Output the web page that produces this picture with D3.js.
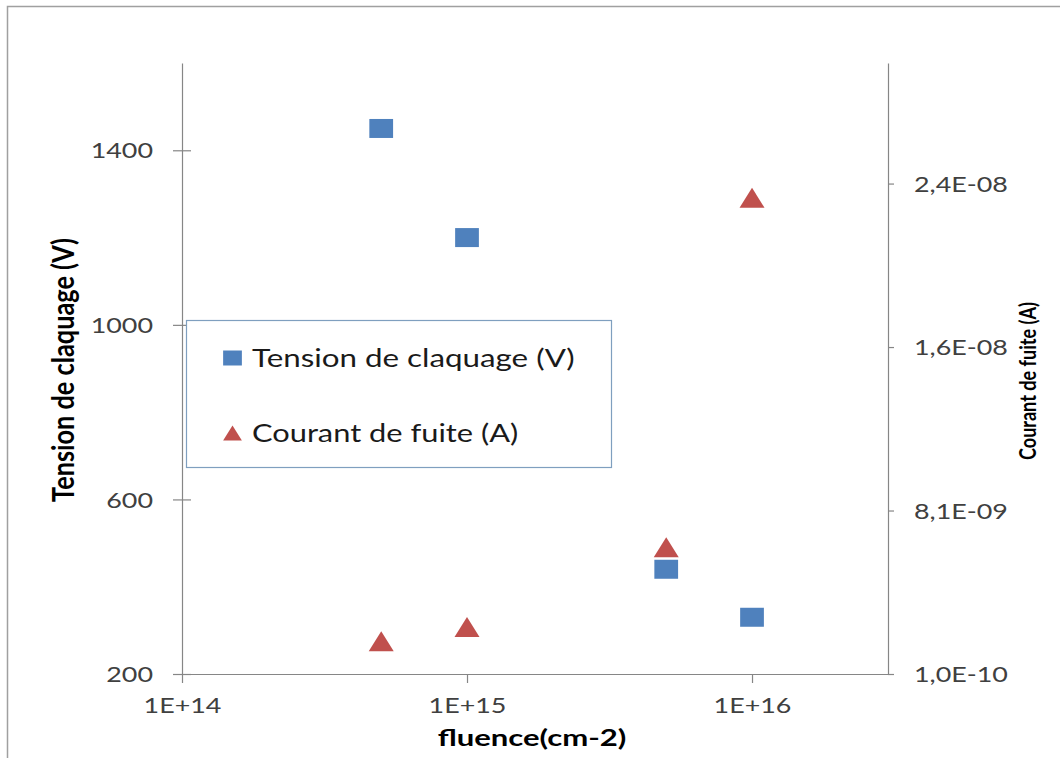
<!DOCTYPE html>
<html>
<head>
<meta charset="utf-8">
<script src="https://cdn.jsdelivr.net/npm/d3@7"></script>
<style>
  body { margin: 0; background: #fff; }
  svg { display: block; }
  text { font-family: Lato, "Noto Sans", sans-serif; }
</style>
</head>
<body>
<svg id="chart" width="1060" height="758"></svg>
<script>
// Irradiation fluence (cm-2) of each measured sample
const fluence = [5e14, 1e15, 5e15, 1e16];
// Breakdown voltage (V), left axis
const tension = [1450, 1200, 440, 330];
// Leakage current (A), right axis
const courant = [1.7e-9, 2.4e-9, 6.3e-9, 2.34e-8];

// Axis tick values
const xTickValues = [1e14, 1e15, 1e16];
const leftTickValues = [200, 600, 1000, 1400];
const rightTickValues = [1e-10, 8.1e-9, 1.61e-8, 2.41e-8];

// Texts
const seriesNames = ["Tension de claquage (V)", "Courant de fuite (A)"];
const xTitle = "fluence(cm-2)";
const leftTitle = "Tension de claquage (V)";
const rightTitle = "Courant de fuite (A)";

// ---- layout & style ----
const SX = 1.25;                       // horizontal stretch of glyphs and markers
const P = { left: 182, right: 888, top: 63, bottom: 674 };
const AXIS = "#868686";
const LABEL = "#404040";
const BLUE = "#4F81BD";
const RED = "#C0504D";

const svg = d3.select("#chart");

// outer chart frame (runs off the right and bottom edges)
svg.append("rect")
  .attr("x", 7.5).attr("y", 6.5).attr("width", 1100).attr("height", 800)
  .attr("fill", "#fff").attr("stroke", "#a0a0a0").attr("stroke-width", 1.5);

const x = d3.scaleLog().domain([1e14, 3e16]).range([P.left, P.right]);
const yL = d3.scaleLinear().domain([200, 1600]).range([P.bottom, P.top]);
const yR = d3.scaleLinear().domain([1e-10, 3e-8]).range([P.bottom, P.top]);

const sciFr = v => {
  const [m, e] = v.toExponential(1).split("e");
  const n = +e;
  return m.replace(".", ",") + "E" + (n < 0 ? "-" : "+") + String(Math.abs(n)).padStart(2, "0");
};

function styleAxis(g) {
  g.select(".domain").attr("stroke", AXIS).attr("stroke-width", 1.2);
  g.selectAll(".tick line").attr("stroke", AXIS).attr("stroke-width", 1.2);
  g.selectAll(".tick text")
    .attr("fill", LABEL)
    .style("font-size", "21.5px")
    .attr("x", null).attr("y", null).attr("dy", null);
}

// left axis (crossing ticks)
const gL = svg.append("g").attr("transform", `translate(${P.left},0)`)
  .call(d3.axisLeft(yL).tickValues(leftTickValues).tickSizeInner(9).tickSizeOuter(0)
        .tickFormat(d3.format("d")));
styleAxis(gL);
gL.selectAll(".tick line").attr("x1", 9);
gL.selectAll(".tick text").attr("text-anchor", "end")
  .attr("transform", `translate(-29,7.7) scale(${SX},1)`);

// right axis
const gR = svg.append("g").attr("transform", `translate(${P.right},0)`)
  .call(d3.axisRight(yR).tickValues(rightTickValues).tickSizeInner(6).tickSizeOuter(0)
        .tickFormat(sciFr));
styleAxis(gR);
gR.selectAll(".tick text").attr("text-anchor", "start")
  .attr("transform", `translate(26,7.7) scale(${SX},1)`);

// bottom axis (log)
const gX = svg.append("g").attr("transform", `translate(0,${P.bottom})`)
  .call(d3.axisBottom(x).tickValues(xTickValues).tickSizeInner(9).tickSizeOuter(0)
        .tickFormat(v => "1E+" + Math.round(Math.log10(v))));
styleAxis(gX);
gX.selectAll(".tick text").attr("text-anchor", "middle")
  .attr("transform", `translate(0,39) scale(${SX},1)`);

// axis titles
svg.append("text")
  .attr("transform", `translate(74,370) scale(${SX},1) rotate(-90)`)
  .attr("text-anchor", "middle").attr("font-weight", "bold")
  .style("font-size", "23.7px").attr("fill", "#000")
  .attr("textLength", 264).attr("lengthAdjust", "spacingAndGlyphs")
  .text(leftTitle);

svg.append("text")
  .attr("transform", `translate(1036,381) scale(${SX},1) rotate(-90)`)
  .attr("text-anchor", "middle").attr("font-weight", "bold")
  .style("font-size", "17.5px").attr("fill", "#000")
  .attr("textLength", 158).attr("lengthAdjust", "spacingAndGlyphs")
  .text(rightTitle);

svg.append("text")
  .attr("transform", `translate(${(P.left + P.right) / 2 - 3},746) scale(${SX},1)`)
  .attr("text-anchor", "middle").attr("font-weight", "bold")
  .style("font-size", "23.7px").attr("fill", "#000")
  .attr("textLength", 151).attr("lengthAdjust", "spacingAndGlyphs")
  .text(xTitle);

// markers
const squarePath = d3.symbol(d3.symbolSquare, 19 * 19)();
const trianglePath = "M0,-10L10,10L-10,10Z";

svg.append("g").selectAll("path")
  .data(fluence.map((f, i) => [f, tension[i]]))
  .join("path")
  .attr("d", squarePath)
  .attr("transform", d => `translate(${x(d[0])},${yL(d[1])}) scale(${SX},1)`)
  .attr("fill", BLUE);

svg.append("g").selectAll("path")
  .data(fluence.map((f, i) => [f, courant[i]]))
  .join("path")
  .attr("d", trianglePath)
  .attr("transform", d => `translate(${x(d[0])},${yR(d[1])}) scale(${SX},1)`)
  .attr("fill", RED);

// legend
const lg = svg.append("g");
lg.append("rect")
  .attr("x", 186.5).attr("y", 320.5).attr("width", 425).attr("height", 147)
  .attr("fill", "#fff").attr("stroke", "#7f9fbf").attr("stroke-width", 1.2);

const legendSymbols = [
  { path: d3.symbol(d3.symbolSquare, 15 * 15)(), color: BLUE },
  { path: "M0,-7.5L7.5,7.5L-7.5,7.5Z", color: RED }
];
const legendTextLength = [258, 213];
const rowY = [358, 433];
seriesNames.forEach((name, i) => {
  lg.append("path")
    .attr("d", legendSymbols[i].path)
    .attr("transform", `translate(232.5,${rowY[i]}) scale(${SX},1)`)
    .attr("fill", legendSymbols[i].color);
  lg.append("text")
    .attr("transform", `translate(252,${rowY[i] + 9}) scale(${SX},1)`)
    .style("font-size", "24.5px").attr("fill", "#1a1a1a")
    .attr("textLength", legendTextLength[i]).attr("lengthAdjust", "spacingAndGlyphs")
    .text(name);
});
</script>
</body>
</html>
